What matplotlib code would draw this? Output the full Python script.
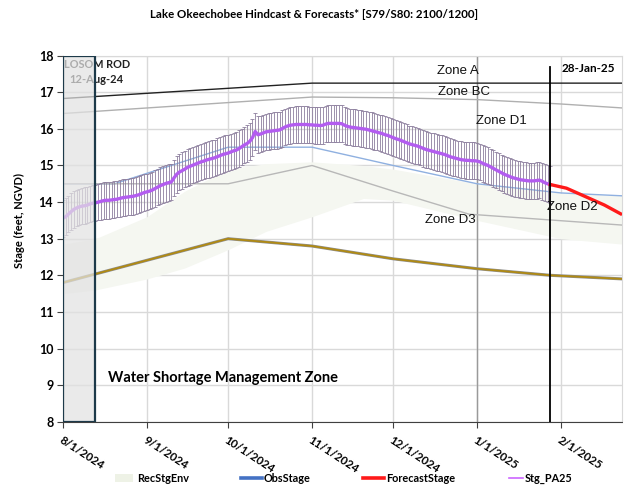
import matplotlib
matplotlib.use("Agg")
import matplotlib.pyplot as plt
import matplotlib.dates as mdates
from matplotlib.patches import Rectangle
from matplotlib.lines import Line2D
import pandas as pd

# ---- data ----
hind_start = "2024-08-01"
stg_pa25 = [
    13.56, 13.60, 13.67, 13.74, 13.80, 13.84, 13.87, 13.89, 13.90, 13.92,
    13.95, 13.97, 13.98, 14.00, 14.02, 14.04, 14.05, 14.05, 14.06, 14.07,
    14.08, 14.10, 14.12, 14.13, 14.14, 14.15, 14.16, 14.18, 14.20, 14.23,
    14.26, 14.28, 14.30, 14.33, 14.37, 14.41, 14.45, 14.48, 14.51, 14.53,
    14.55, 14.66, 14.76, 14.82, 14.86, 14.90, 14.95, 14.98, 15.01, 15.04,
    15.07, 15.10, 15.12, 15.15, 15.17, 15.19, 15.21, 15.24, 15.27, 15.30,
    15.32, 15.34, 15.37, 15.40, 15.42, 15.46, 15.51, 15.56, 15.60, 15.66,
    15.76, 15.93, 15.84, 15.86, 15.89, 15.92, 15.93, 15.94, 15.95, 15.96,
    15.97, 16.01, 16.05, 16.08, 16.10, 16.11, 16.12, 16.12, 16.12, 16.12,
    16.12, 16.11, 16.11, 16.10, 16.10, 16.09, 16.10, 16.13, 16.15, 16.15,
    16.15, 16.15, 16.15, 16.14, 16.10, 16.07, 16.05, 16.04, 16.03, 16.02,
    16.01, 16.00, 15.99, 15.97, 15.95, 15.93, 15.91, 15.89, 15.87, 15.84,
    15.82, 15.79, 15.76, 15.73, 15.71, 15.68, 15.65, 15.62, 15.59, 15.57,
    15.55, 15.53, 15.50, 15.47, 15.44, 15.42, 15.40, 15.38, 15.36, 15.34,
    15.32, 15.30, 15.27, 15.24, 15.22, 15.20, 15.18, 15.16, 15.15, 15.14,
    15.14, 15.13, 15.13, 15.12, 15.10, 15.06, 15.03, 15.00, 14.96, 14.92,
    14.88, 14.84, 14.80, 14.76, 14.73, 14.70, 14.67, 14.65, 14.63, 14.61,
    14.60, 14.59, 14.58, 14.58, 14.58, 14.59, 14.60, 14.57, 14.53, 14.50,
    14.48,
]
stg_err = 0.5

fc_dates = ["2025-01-28", "2025-02-03", "2025-02-10", "2025-02-17", "2025-02-23"]
fc_stage = [14.48, 14.38, 14.15, 13.92, 13.68]

zone_a_dates = ["2024-08-01", "2024-11-01", "2025-02-24"]
zone_a = [16.83, 17.25, 17.25]

zone_bc_dates = ["2024-08-01", "2024-11-01", "2024-12-01", "2025-01-01", "2025-02-01", "2025-02-24"]
zone_bc = [16.42, 16.87, 16.85, 16.80, 16.68, 16.57]

zone_d1_dates = ["2024-08-01", "2024-08-20", "2024-10-01", "2024-11-01", "2024-12-01",
                 "2025-01-01", "2025-02-01", "2025-02-24"]
zone_d1 = [14.5, 14.5, 15.5, 15.5, 15.0, 14.5, 14.25, 14.17]

zone_d3_dates = ["2024-08-01", "2024-10-01", "2024-11-01", "2024-12-01", "2024-12-29", "2025-02-24"]
zone_d3 = [14.5, 14.5, 15.0, 14.3, 13.67, 13.37]

wsm_dates = ["2024-08-01", "2024-10-01", "2024-11-01", "2024-12-01", "2025-01-01",
             "2025-01-28", "2025-02-24"]
wsm = [11.8, 13.0, 12.8, 12.45, 12.18, 12.0, 11.9]

env_dates = ["2024-08-01", "2024-08-13", "2024-09-01", "2024-09-15", "2024-10-01", "2024-10-15",
             "2024-11-01", "2024-11-20", "2024-12-01", "2025-01-01", "2025-02-01", "2025-02-24"]
env_upper = [12.85, 13.0, 13.6, 14.3, 14.9, 15.05, 15.1, 15.0, 14.9, 14.5, 14.25, 14.17]
env_lower = [11.5, 11.6, 11.9, 12.2, 12.7, 13.2, 13.6, 14.1, 14.05, 13.5, 13.0, 12.85]

month_ticks = ["2024-08-01", "2024-09-01", "2024-10-01", "2024-11-01", "2024-12-01",
               "2025-01-01", "2025-02-01"]
month_labels = ["8/1/2024", "9/1/2024", "10/1/2024", "11/1/2024", "12/1/2024",
                "1/1/2025", "2/1/2025"]

legend_labels = ["RecStgEnv", "ObsStage", "ForecastStage", "Stg_PA25"]

rod_start, rod_end = "2024-08-01", "2024-08-13"
forecast_day = "2025-01-28"

plt.rcParams["font.family"] = ["Lato", "DejaVu Sans"]


def d(s):
    return pd.to_datetime(s)


fig = plt.figure(figsize=(6.28, 4.91), dpi=100)
ax = fig.add_axes([0.1003, 0.1411, 0.8901, 0.7455])

ax.set_xlim(d("2024-08-01"), d("2025-02-23") + pd.Timedelta(hours=12))
ax.set_ylim(8, 18)

# grid
ax.set_yticks(range(8, 19))
ax.set_xticks(pd.to_datetime(month_ticks))
ax.grid(True, color="#d9d9d9", lw=1.0, zorder=0)
ax.set_axisbelow(True)

# recommended stage envelope
ax.fill_between(pd.to_datetime(env_dates), env_lower, env_upper,
                color="#f5f7f1", lw=0, zorder=1)

# zone lines
ax.plot(pd.to_datetime(zone_a_dates), zone_a, color="#222222", lw=1.0, zorder=3)
ax.plot(pd.to_datetime(zone_bc_dates), zone_bc, color="#b0b0b0", lw=1.0, zorder=3)
ax.plot(pd.to_datetime(zone_d1_dates), zone_d1, color="#8fb0e0", lw=1.0, zorder=3)
ax.plot(pd.to_datetime(zone_d3_dates), zone_d3, color="#b8b8b8", lw=1.0, zorder=3)
ax.plot(pd.to_datetime(wsm_dates), wsm, color="#8f8f8f", lw=2.2, zorder=3)
ax.plot(pd.to_datetime(wsm_dates), wsm, color="#b08a12", lw=1.3, zorder=3)

# 1/1 marker line and forecast-day line
ax.axvline(d("2025-01-01"), color="#9a9a9a", lw=1.0, zorder=2)
ax.plot([d(forecast_day), d(forecast_day)], [8, 17.7], color="black", lw=1.3, zorder=6)

# hindcast stage with error bars
hind_dates = pd.date_range(hind_start, periods=len(stg_pa25), freq="D")
ax.errorbar(hind_dates, stg_pa25, yerr=stg_err, fmt="none", ecolor="#8d7f9e",
            elinewidth=0.6, capsize=1.6, capthick=0.6, zorder=4)
ax.plot(hind_dates, stg_pa25, color="#b35cf0", lw=2.4, zorder=5)

# forecast
ax.plot(pd.to_datetime(fc_dates), fc_stage, color="#ff1a1a", lw=2.4, zorder=5)

# LOSOM ROD text beneath the box
ax.text(d("2024-08-01") + pd.Timedelta(hours=12), 17.77, "LOSOM ROD", fontsize=7.8,
        fontweight="bold", color="#222222", ha="left", va="center", zorder=6)
ax.text(d("2024-08-13") + pd.Timedelta(hours=6), 17.36, "12-Aug-24", fontsize=8,
        fontweight="bold", color="#222222", ha="center", va="center", zorder=6)

# ROD box overlay
x0 = mdates.date2num(d(rod_start))
x1 = mdates.date2num(d(rod_end))
ax.add_patch(Rectangle((x0, 8), x1 - x0, 10, facecolor="#e2e2e2", alpha=0.72,
                       edgecolor="none", zorder=7))
ax.add_patch(Rectangle((x0, 8), x1 - x0, 10, facecolor="none",
                       edgecolor="#1d3a4a", lw=1.6, zorder=8))

# zone labels
zfont = dict(fontsize=9.5, family=["Liberation Sans", "DejaVu Sans"], color="#111111",
             ha="center", va="center", zorder=9)
ax.text(d("2024-12-25"), 17.58, "Zone A", **zfont)
ax.text(d("2024-12-27"), 17.0, "Zone BC", **zfont)
ax.text(d("2025-01-10"), 16.22, "Zone D1", **zfont)
ax.text(d("2025-02-05"), 13.86, "Zone D2", **zfont)
ax.text(d("2024-12-22"), 13.5, "Zone D3", **zfont)
ax.text(d("2025-02-01"), 17.65, "28-Jan-25", fontsize=8.5,
        fontweight="bold", ha="left", va="center", zorder=9)
ax.text(d("2024-08-17") + pd.Timedelta(hours=14), 9.2, "Water Shortage Management Zone",
        fontsize=10.5, fontweight="bold", ha="left", va="center", zorder=9)

# axes styling
for side in ("top", "right"):
    ax.spines[side].set_color("#d9d9d9")
ax.spines["left"].set_color("#404040")
ax.spines["bottom"].set_color("#404040")
ax.spines["bottom"].set_linestyle((0, (1, 1)))
ax.tick_params(axis="y", length=4, color="#404040", labelsize=9, pad=3)
ax.tick_params(axis="x", length=4, color="#404040", labelsize=8.3, pad=5)
for lbl in ax.get_yticklabels():
    lbl.set_fontweight("bold")
ax.set_xticklabels(month_labels, rotation=-33, ha="left", va="top",
                   rotation_mode="anchor", fontweight="bold")

ax.set_ylabel("Stage (feet, NGVD)", fontsize=8, fontweight="bold")
ax.yaxis.set_label_coords(-0.068, 0.55)

fig.text(0.5, 0.971, "Lake Okeechobee Hindcast & Forecasts* [S79/S80: 2100/1200]",
         fontsize=8.3, fontweight="bold", ha="center", va="center")

# legend row along the bottom (pixel layout)
W, H = 628.0, 491.0
ly = 1 - 478 / H
leg_items = [
    ("patch", "#eef2e6", 115, 133, 137),
    ("line", "#4472c4", 241, 262, 264),
    ("line", "#ff1a1a", 363, 384, 386),
    ("thin", "#cc66ff", 509, 523, 525),
]
for (kind, col, hx0, hx1, tx), lab in zip(leg_items, legend_labels):
    if kind == "patch":
        fig.patches.append(Rectangle((hx0 / W, ly - 4 / H), (hx1 - hx0) / W, 8 / H,
                                     transform=fig.transFigure, facecolor=col,
                                     edgecolor="none"))
    else:
        lw = 2.6 if kind == "line" else 1.2
        fig.add_artist(Line2D([hx0 / W, hx1 / W], [ly, ly], transform=fig.transFigure,
                              color=col, lw=lw))
    fig.text(tx / W, ly, lab, fontsize=7.8, fontweight="bold", ha="left", va="center")

fig.savefig("out.png", dpi=100)
